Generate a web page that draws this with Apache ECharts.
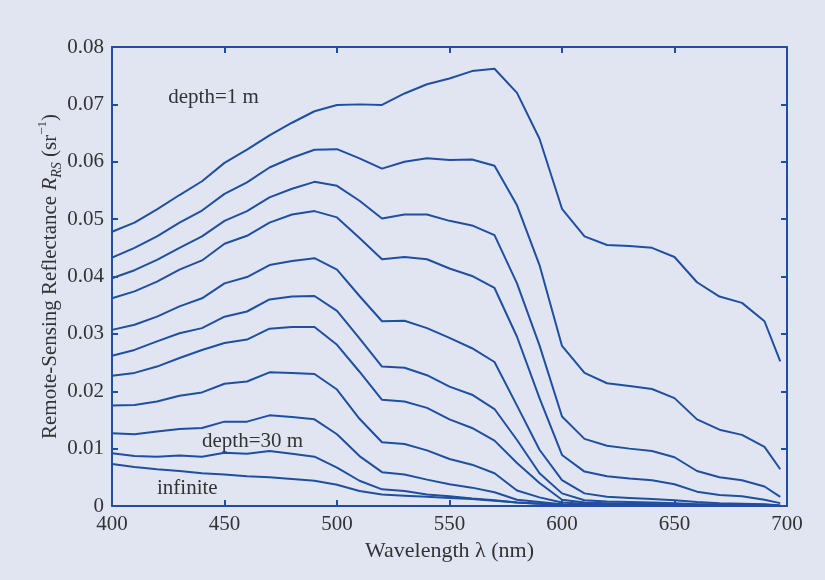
<!DOCTYPE html>
<html>
<head>
<meta charset="utf-8">
<script src="https://cdn.jsdelivr.net/npm/echarts@6/dist/echarts.min.js"></script>
<style>
  html, body { margin: 0; padding: 0; background: #e1e5f2; }
  #main { width: 825px; height: 580px; }
</style>
</head>
<body>
<div id="main"></div>
<script>
// wavelengths (nm), last sample sits a little short of 700
var wavelengths = [400, 410, 420, 430, 440, 450, 460, 470, 480, 490, 500, 510, 520, 530, 540, 550,
  560, 570, 580, 590, 600, 610, 620, 630, 640, 650, 660, 670, 680, 690, 697];

// Rrs curves, shallow (1 m) at top down to infinite depth at bottom
var depth1 = [0.0478, 0.0494, 0.0517, 0.0542, 0.0566, 0.0598, 0.0621, 0.0646, 0.0668, 0.0688, 0.0699,
  0.0700, 0.0699, 0.0719, 0.0735, 0.0745, 0.0758, 0.0762, 0.0720, 0.0640, 0.0518, 0.0470, 0.0455,
  0.0453, 0.0450, 0.0434, 0.0390, 0.0365, 0.0354, 0.0322, 0.0252];
var curve2 = [0.0433, 0.0450, 0.0470, 0.0494, 0.0515, 0.0544, 0.0564, 0.0590, 0.0607, 0.0621, 0.0622,
  0.0606, 0.0588, 0.0600, 0.0606, 0.0603, 0.0604, 0.0593, 0.0524, 0.0420, 0.0279, 0.0232, 0.0214,
  0.0209, 0.0204, 0.0188, 0.0151, 0.0133, 0.0124, 0.0103, 0.0064];
var curve3 = [0.0397, 0.0411, 0.0429, 0.0450, 0.0470, 0.0497, 0.0514, 0.0538, 0.0553, 0.0565, 0.0558,
  0.0532, 0.0501, 0.0508, 0.0508, 0.0497, 0.0489, 0.0472, 0.0388, 0.0280, 0.0156, 0.0117, 0.0105,
  0.0100, 0.0096, 0.0085, 0.0061, 0.0050, 0.0045, 0.0034, 0.0016];
var curve4 = [0.0362, 0.0374, 0.0391, 0.0412, 0.0428, 0.0457, 0.0471, 0.0494, 0.0508, 0.0514, 0.0503,
  0.0467, 0.0430, 0.0434, 0.0430, 0.0414, 0.0401, 0.0380, 0.0295, 0.0188, 0.0089, 0.0060, 0.0052,
  0.0048, 0.0045, 0.0038, 0.0025, 0.0019, 0.0017, 0.0011, 0.0005];
var curve5 = [0.0307, 0.0316, 0.0330, 0.0348, 0.0362, 0.0388, 0.0399, 0.0420, 0.0427, 0.0432, 0.0412,
  0.0366, 0.0322, 0.0323, 0.0310, 0.0293, 0.0275, 0.0251, 0.0175, 0.0098, 0.0045, 0.0022, 0.0016,
  0.0014, 0.0012, 0.0010, 0.0007, 0.0005, 0.0004, 0.0003, 0.0001];
var curve6 = [0.0262, 0.0272, 0.0287, 0.0301, 0.0310, 0.0330, 0.0339, 0.0360, 0.0365, 0.0366, 0.0340,
  0.0292, 0.0243, 0.0241, 0.0228, 0.0208, 0.0194, 0.0169, 0.0115, 0.0057, 0.0022, 0.0010, 0.0008,
  0.0007, 0.0006, 0.0005, 0.0003, 0.0003, 0.0002, 0.0002, 0.0001];
var curve7 = [0.0227, 0.0232, 0.0243, 0.0258, 0.0272, 0.0284, 0.0290, 0.0309, 0.0312, 0.0312, 0.0281,
  0.0234, 0.0185, 0.0182, 0.0171, 0.0151, 0.0136, 0.0114, 0.0075, 0.0040, 0.0011, 0.0006, 0.0005,
  0.0004, 0.0004, 0.0003, 0.0002, 0.0002, 0.0001, 0.0001, 0.0000];
var curve8 = [0.0175, 0.0176, 0.0182, 0.0192, 0.0198, 0.0213, 0.0217, 0.0233, 0.0232, 0.0230, 0.0203,
  0.0152, 0.0111, 0.0108, 0.0097, 0.0082, 0.0072, 0.0057, 0.0027, 0.0015, 0.0006, 0.0004, 0.0003,
  0.0003, 0.0002, 0.0002, 0.0001, 0.0001, 0.0001, 0.0001, 0.0000];
var curve9 = [0.0127, 0.0125, 0.0130, 0.0134, 0.0136, 0.0147, 0.0147, 0.0158, 0.0155, 0.0151, 0.0125,
  0.0087, 0.0059, 0.0055, 0.0046, 0.0038, 0.0032, 0.0024, 0.0011, 0.0007, 0.0003, 0.0002, 0.0002,
  0.0001, 0.0001, 0.0001, 0.0001, 0.0000, 0.0000, 0.0000, 0.0000];
var depth30 = [0.0092, 0.0087, 0.0086, 0.0088, 0.0086, 0.0093, 0.0091, 0.0096, 0.0091, 0.0086, 0.0067,
  0.0044, 0.0029, 0.0026, 0.0020, 0.0017, 0.0013, 0.0010, 0.0006, 0.0004, 0.0002, 0.0001, 0.0001,
  0.0001, 0.0001, 0.0001, 0.0000, 0.0000, 0.0000, 0.0000, 0.0000];
var infinite = [0.0073, 0.0068, 0.0064, 0.0061, 0.0057, 0.0055, 0.0052, 0.0050, 0.0047, 0.0044, 0.0037,
  0.0026, 0.0020, 0.0018, 0.0016, 0.0014, 0.0012, 0.0009, 0.0006, 0.0004, 0.0002, 0.0001, 0.0001,
  0.0001, 0.0001, 0.0001, 0.0001, 0.0000, 0.0000, 0.0000, 0.0000];

var curves = [depth1, curve2, curve3, curve4, curve5, curve6, curve7, curve8, curve9, depth30, infinite];

// text notes, in data coordinates
var notes = [
  { text: 'depth=1 m', x: 425, y: 0.0712 },
  { text: 'depth=30 m', x: 440, y: 0.0113 },
  { text: 'infinite', x: 420, y: 0.0031 }
];

var blue = '#1f4fa0';
var ink = '#333333';
var serif = '"Liberation Serif", "DejaVu Serif", serif';

function zip(ys) {
  var out = [];
  for (var i = 0; i < wavelengths.length; i++) {
    out.push([wavelengths[i], ys[i]]);
  }
  return out;
}

function axisX(pos, labels) {
  return {
    type: 'value', position: pos, min: 400, max: 700, interval: 50,
    name: labels ? 'Wavelength \u03bb (nm)' : '',
    nameLocation: 'middle', nameGap: 32,
    nameTextStyle: { fontFamily: serif, fontSize: 22, color: ink },
    axisLine: { show: true, onZero: false, lineStyle: { color: blue, width: 2 } },
    axisTick: { show: true, inside: true, length: 6, lineStyle: { color: blue, width: 2 } },
    axisLabel: { show: labels, margin: 8, fontFamily: serif, fontSize: 21, color: ink },
    splitLine: { show: false }
  };
}

function axisY(pos, labels) {
  return {
    type: 'value', position: pos, min: 0, max: 0.08, interval: 0.01,
    name: labels ? '{a|Remote-Sensing Reflectance }{i|R}{s|RS}{a| (sr}{p|\u22121}{a|)}' : '',
    nameLocation: 'middle', nameGap: 48, nameRotate: 90, nameMoveOverlap: false,
    nameTextStyle: {
      fontFamily: serif, fontSize: 21, color: ink,
      rich: {
        a: { fontFamily: serif, fontSize: 21, color: ink, lineHeight: 28 },
        i: { fontFamily: serif, fontSize: 21, color: ink, fontStyle: 'italic', lineHeight: 28 },
        s: { fontFamily: serif, fontSize: 14, color: ink, fontStyle: 'italic', verticalAlign: 'bottom', lineHeight: 14 },
        p: { fontFamily: serif, fontSize: 13, color: ink, verticalAlign: 'top', lineHeight: 13 }
      }
    },
    axisLine: { show: true, onZero: false, lineStyle: { color: blue, width: 2 } },
    axisTick: { show: true, inside: true, length: 6, lineStyle: { color: blue, width: 2 } },
    axisLabel: {
      show: labels, margin: 8, fontFamily: serif, fontSize: 21, color: ink,
      formatter: function(v) { return v === 0 ? '0' : v.toFixed(2); }
    },
    splitLine: { show: false }
  };
}

var series = [];
for (var k = 0; k < curves.length; k++) {
  series.push({
    type: 'line',
    xAxisIndex: 0,
    yAxisIndex: 0,
    data: zip(curves[k]),
    showSymbol: false,
    lineStyle: { color: blue, width: 2 },
    itemStyle: { color: blue },
    silent: true
  });
}

var chart = echarts.init(document.getElementById('main'));
chart.setOption({
  animation: false,
  backgroundColor: '#e1e5f2',
  grid: { left: 112, right: 38, top: 47, bottom: 74 },
  xAxis: [axisX('bottom', true), axisX('top', false)],
  yAxis: [axisY('left', true), axisY('right', false)],
  series: series
});

var texts = [];
for (var n = 0; n < notes.length; n++) {
  var p = chart.convertToPixel({ xAxisIndex: 0, yAxisIndex: 0 }, [notes[n].x, notes[n].y]);
  texts.push({
    type: 'text', x: p[0], y: p[1],
    style: {
      text: notes[n].text, fill: ink, font: '21px ' + serif,
      textAlign: 'left', textVerticalAlign: 'middle'
    }
  });
}
chart.setOption({ graphic: texts });
</script>
</body>
</html>
